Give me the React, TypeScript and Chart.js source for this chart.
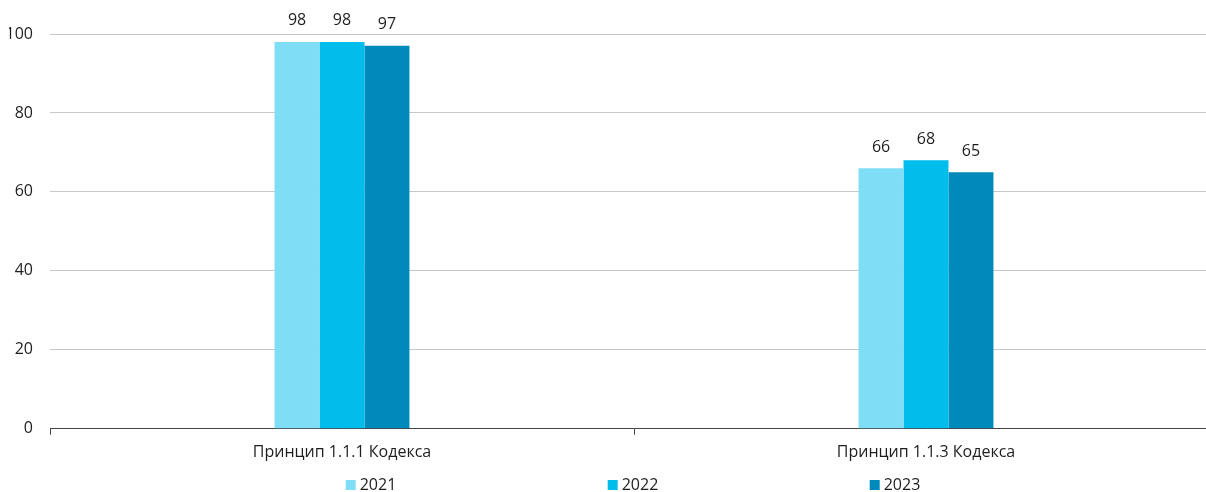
import React, { useEffect, useRef } from "react";
import { Chart, registerables } from "chart.js";

Chart.register(...registerables);

const categories = ["Принцип 1.1.1 Кодекса", "Принцип 1.1.3 Кодекса"];
const seriesNames = ["2021", "2022", "2023"];
const values2021 = [98, 66];
const values2022 = [98, 68];
const values2023 = [97, 65];
const yTicks = [0, 20, 40, 60, 80, 100];
const colors = ["#80DDF6", "#00BDEC", "#0089BB"];

const FONT = "'Open Sans', Roboto, 'DejaVu Sans', sans-serif";
const FSIZE = 16;
const TEXT = "#1e1e1e";

const labelsPlugin = {
  id: "barLabels",
  afterDatasetsDraw(chart: any) {
    const ctx = chart.ctx;
    ctx.save();
    ctx.font = `${FSIZE}px ${FONT}`;
    ctx.fillStyle = TEXT;
    ctx.textAlign = "center";
    ctx.textBaseline = "middle";
    chart.data.datasets.forEach((ds: any, i: number) => {
      const meta = chart.getDatasetMeta(i);
      meta.data.forEach((bar: any, j: number) => {
        ctx.fillText(String(ds.data[j]), bar.x, bar.y - 21);
      });
    });
    ctx.restore();
  },
};

const legendPlugin = {
  id: "spreadLegend",
  afterDraw(chart: any) {
    const ctx = chart.ctx;
    const cx = 633;
    const spacing = 262;
    const y = 485;
    ctx.save();
    ctx.font = `${FSIZE}px ${FONT}`;
    ctx.textBaseline = "middle";
    ctx.textAlign = "left";
    chart.data.datasets.forEach((ds: any, i: number) => {
      const textW = ctx.measureText(ds.label).width;
      const itemW = 10 + 4 + textW;
      const center = cx + (i - 1) * spacing;
      const x0 = center - itemW / 2;
      ctx.fillStyle = ds.backgroundColor;
      ctx.fillRect(x0, y - 5, 10, 10);
      ctx.fillStyle = TEXT;
      ctx.fillText(ds.label, x0 + 14, y);
    });
    ctx.restore();
  },
};

export default function App() {
  const ref = useRef<HTMLCanvasElement>(null);
  useEffect(() => {
    if (!ref.current) return;
    const chart = new Chart(ref.current, {
      type: "bar",
      data: {
        labels: categories,
        datasets: [values2021, values2022, values2023].map((d, i) => ({
          label: seriesNames[i],
          data: d,
          backgroundColor: colors[i],
          borderWidth: 0,
          categoryPercentage: 0.231,
          barPercentage: 1,
        })),
      },
      options: {
        animation: false,
        responsive: false,
        maintainAspectRatio: false,
        devicePixelRatio: 1,
        layout: { padding: { left: 9, right: 0, top: 34, bottom: 22 } },
        plugins: {
          legend: { display: false },
          tooltip: { enabled: false },
        },
        scales: {
          x: {
            grid: {
              display: true,
              drawOnChartArea: false,
              drawTicks: true,
              tickLength: 6,
              color: "#444",
              offset: true,
            },
            border: { display: true, color: "#444", width: 1 },
            ticks: { color: TEXT, font: { size: FSIZE, family: FONT }, padding: 8 },
          },
          y: {
            min: 0,
            max: 100,
            afterBuildTicks(scale: any) {
              scale.ticks = yTicks.map((v) => ({ value: v }));
            },
            afterFit(scale: any) {
              scale.width = 41;
            },
            grid: { color: "#c8c8c8", drawTicks: false, lineWidth: 1 },
            border: { display: false },
            ticks: { color: TEXT, font: { size: FSIZE, family: FONT }, padding: 17 },
          },
        },
      },
      plugins: [labelsPlugin, legendPlugin],
    });
    return () => chart.destroy();
  }, []);
  return (
    <div style={{ position: "fixed", left: 0, top: 0, width: 1206, height: 492, overflow: "hidden", background: "#fff" }}>
      <canvas ref={ref} width={1218} height={492} style={{ display: "block" }} />
    </div>
  );
}
